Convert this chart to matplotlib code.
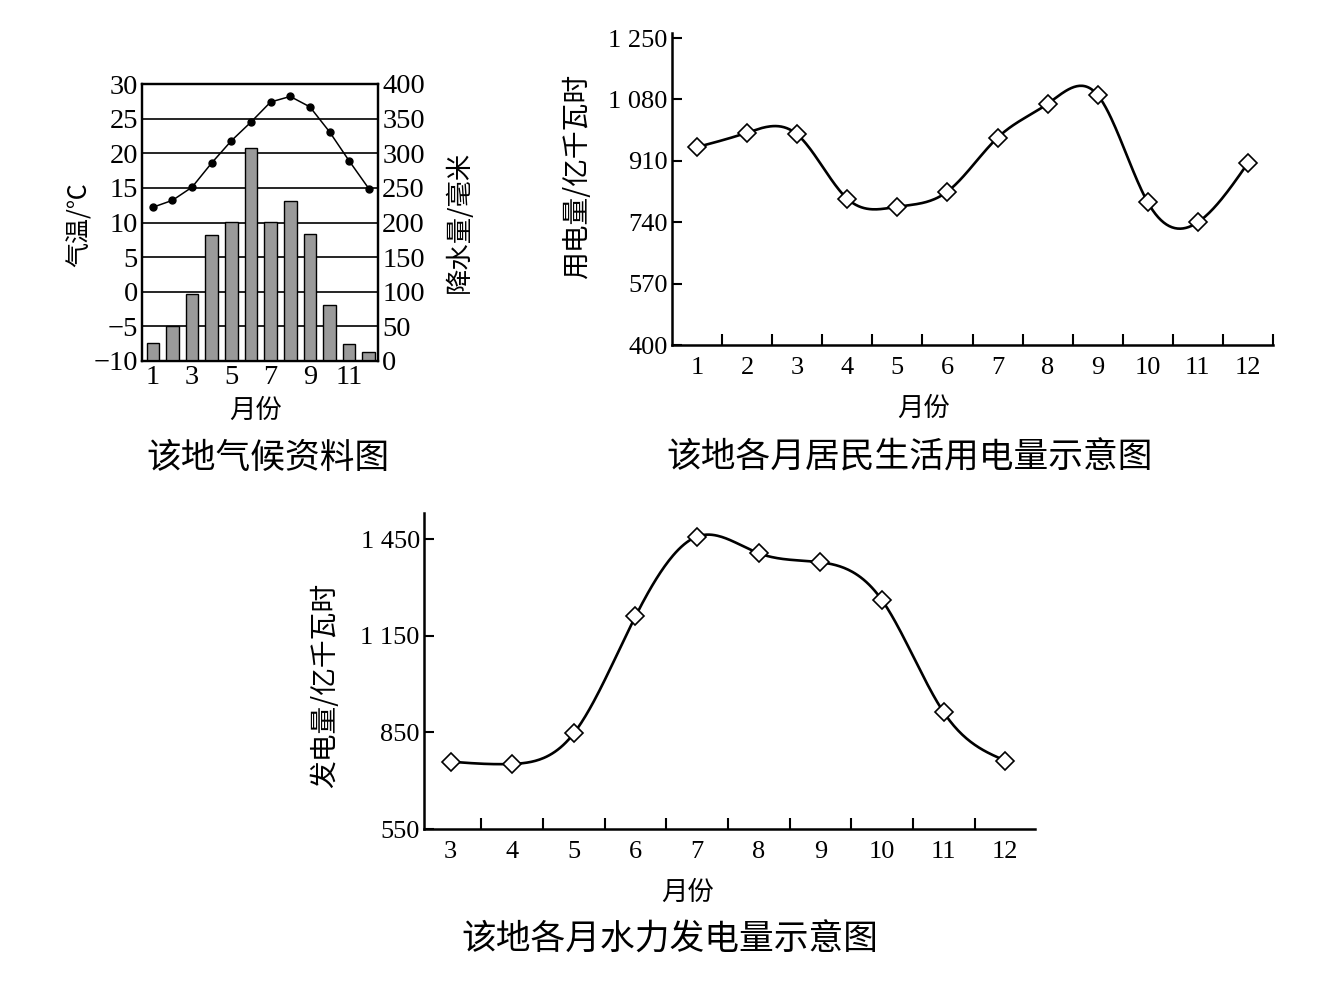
import numpy as np
import matplotlib
matplotlib.use("Agg")
import matplotlib.pyplot as plt
from matplotlib.ticker import FixedLocator, FuncFormatter

plt.rcParams['font.family'] = ['Liberation Serif', 'Noto Sans CJK SC']
plt.rcParams['axes.unicode_minus'] = True

# ---------------- data ----------------
months = list(range(1, 13))
temperature = [12.2, 13.2, 15.1, 18.6, 21.8, 24.5, 27.4, 28.2, 26.7, 23.1, 18.9, 14.9]
precipitation = [26, 50, 97, 182, 200, 307, 200, 231, 183, 81, 25, 13]

elec_months = list(range(1, 13))
elec_use = [948, 988, 983, 805, 783, 825, 974, 1068, 1092, 795, 740, 904]

hydro_months = [3, 4, 5, 6, 7, 8, 9, 10, 11, 12]
hydro_gen = [759, 752, 847, 1210, 1458, 1406, 1378, 1260, 912, 762]

temp_ticks = [-10, -5, 0, 5, 10, 15, 20, 25, 30]
prec_ticks = [0, 50, 100, 150, 200, 250, 300, 350, 400]
climate_xticks = [1, 3, 5, 7, 9, 11]
elec_yticks = [400, 570, 740, 910, 1080, 1250]
hydro_yticks = [550, 850, 1150, 1450]

W, H = 1321, 989
NUM = 19
NUM1 = 20.5
CJK = ['Noto Sans CJK SC', 'DejaVu Sans']


def smooth(x, y, n=400):
    x = np.asarray(x, float)
    y = np.asarray(y, float)
    m = len(x)
    h = np.diff(x)
    A = np.zeros((m, m))
    b = np.zeros(m)
    A[0, 0] = 1
    A[-1, -1] = 1
    for i in range(1, m - 1):
        A[i, i - 1] = h[i - 1]
        A[i, i] = 2 * (h[i - 1] + h[i])
        A[i, i + 1] = h[i]
        b[i] = 6 * ((y[i + 1] - y[i]) / h[i] - (y[i] - y[i - 1]) / h[i - 1])
    M = np.linalg.solve(A, b)
    xs = np.linspace(x[0], x[-1], n)
    idx = np.clip(np.searchsorted(x, xs) - 1, 0, m - 2)
    x0 = x[idx]
    x1 = x[idx + 1]
    hh = x1 - x0
    t0 = x1 - xs
    t1 = xs - x0
    ys = (M[idx] * t0 ** 3 / (6 * hh) + M[idx + 1] * t1 ** 3 / (6 * hh)
          + (y[idx] / hh - M[idx] * hh / 6) * t0
          + (y[idx + 1] / hh - M[idx + 1] * hh / 6) * t1)
    return xs, ys


def rect(l, t, r, b):
    return [l / W, 1 - b / H, (r - l) / W, (b - t) / H]


def ftext(x, y, s, size, rot=0):
    fig.text(x / W, 1 - y / H, s, ha='center', va='center', rotation=rot,
             fontsize=size, family=CJK)


def thousands(v, pos):
    v = int(round(v))
    if v >= 1000:
        return f"{v // 1000} {v % 1000:03d}"
    return str(v)


fig = plt.figure(figsize=(W / 100, H / 100), dpi=100)

# ---------------- chart 1: climate ----------------
ax1 = fig.add_axes(rect(142, 84, 378, 361))
ax1.set_xlim(0.45, 12.47)
ax1.set_ylim(-10, 30)
ax1.set_yticks(temp_ticks)
ax1.set_xticks(climate_xticks)
ax1.yaxis.grid(True, color='black', lw=1.2)
ax1.set_axisbelow(True)
ax1.tick_params(axis='both', length=0, labelsize=NUM1)
ax1.tick_params(axis='y', pad=3)
ax1.tick_params(axis='x', pad=3)
for s in ax1.spines.values():
    s.set_linewidth(1.6)
ax1.plot(months, temperature, color='black', lw=1.1, marker='o', ms=5, zorder=3)

ax1b = ax1.twinx()
ax1b.set_ylim(0, 400)
ax1b.set_yticks(prec_ticks)
ax1b.tick_params(axis='y', length=0, labelsize=NUM1, pad=3)
ax1b.bar(months, precipitation, width=0.64, color='#9a9a9a', edgecolor='black',
         linewidth=1.0, zorder=2)
for s in ax1b.spines.values():
    s.set_linewidth(1.6)

ftext(80, 225, '气温/℃', 18, 90)
ftext(459, 222, '降水量/毫米', 19, 90)
ftext(256, 410, '月份', 19)
ftext(268, 458, '该地气候资料图', 25)


def line_axes(ax, xs, ys, xlim, ylim, yticks, xlabels_pos):
    ax.set_xlim(*xlim)
    ax.set_ylim(*ylim)
    ax.spines['top'].set_visible(False)
    ax.spines['right'].set_visible(False)
    for s in ('left', 'bottom'):
        ax.spines[s].set_linewidth(1.8)
    ax.yaxis.set_major_locator(FixedLocator(yticks))
    ax.yaxis.set_major_formatter(FuncFormatter(thousands))
    ax.xaxis.set_major_locator(FixedLocator(xlabels_pos))
    ax.xaxis.set_minor_locator(FixedLocator([p + 0.5 for p in xlabels_pos]))
    ax.tick_params(axis='y', direction='in', length=7, width=1.5, labelsize=NUM, pad=3)
    ax.tick_params(axis='x', which='major', length=0, labelsize=NUM, pad=9)
    ax.tick_params(axis='x', which='minor', direction='in', length=8, width=1.5)
    sx, sy = smooth(xs, ys)
    ax.plot(sx, sy, color='black', lw=1.9, zorder=2, clip_on=False)
    ax.plot(xs, ys, linestyle='none', marker='D', ms=9, mfc='white', mec='black',
            mew=1.2, zorder=3, clip_on=False)


# ---------------- chart 2: electricity use ----------------
ax2 = fig.add_axes(rect(672, 33, 1273, 345))
line_axes(ax2, elec_months, elec_use, (0.5, 12.5), (400, 1264), elec_yticks, elec_months)
ftext(577, 176, '用电量/亿千瓦时', 20, 90)
ftext(924, 408, '月份', 19)
ftext(910, 458, '该地各月居民生活用电量示意图', 25)

# ---------------- chart 3: hydropower ----------------
ax3 = fig.add_axes(rect(424, 513, 1035, 829))
line_axes(ax3, hydro_months, hydro_gen, (2.57, 12.48), (550, 1531), hydro_yticks, hydro_months)
ftext(325, 685, '发电量/亿千瓦时', 20, 90)
ftext(688, 892, '月份', 19)
ftext(670, 940, '该地各月水力发电量示意图', 25)

fig.savefig('out.png', dpi=100)
